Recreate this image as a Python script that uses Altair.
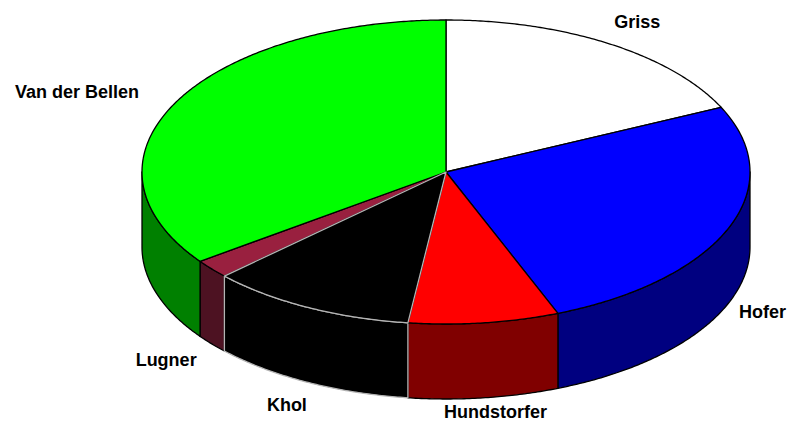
import math
import altair as alt
import pandas as pd

# ---- data ----
names = ["Griss", "Hofer", "Hundstorfer", "Khol", "Lugner", "Van der Bellen"]
values = [18, 26, 8, 11, 2, 35]
top_colors = ["#FFFFFF", "#0000FF", "#FF0000", "#000000", "#99203F", "#00FF00"]
side_colors = ["#BFBFBF", "#000080", "#800000", "#000000", "#4D1222", "#008000"]
edge_colors = ["#000000", "#000000", "#000000", "#B4B4B4", "#000000", "#000000"]

# ---- geometry of the tilted pie (styling, not data) ----
W, H = 781, 415
RX, RY, DEPTH = 304, 152, 75
CX, CY = 438, 164
FS = 18


def pt(deg, drop=0.0):
    r = math.radians(deg)
    return [RX * math.sin(r), RY * math.cos(r) - drop]


def arc_pts(a0, a1, drop=0.0):
    n = max(2, int(abs(a1 - a0) * 2)) + 1
    return [pt(a0 + (a1 - a0) * k / (n - 1), drop) for k in range(n)]


total = float(sum(values))
sides, tops = [], []
start = 0.0
mids = []
for i, name in enumerate(names):
    span = values[i] / total * 360.0
    end = start + span
    mids.append(start + span / 2)
    ring = [[0.0, 0.0]] + arc_pts(start, end) + [[0.0, 0.0]]
    tops.append({
        "type": "Feature",
        "properties": {"name": name, "fill": top_colors[i], "stroke": edge_colors[i], "k": 1 if name == "Khol" else 0},
        "geometry": {"type": "Polygon", "coordinates": [ring]},
    })
    s0, s1 = max(start, 90.0), min(end, 270.0)
    if s1 > s0:
        upper = arc_pts(s0, s1)
        lower = arc_pts(s1, s0, DEPTH)
        ring2 = upper + lower + [upper[0]]
        sides.append({
            "type": "Feature",
            "properties": {"name": name, "fill": side_colors[i], "stroke": edge_colors[i], "k": 1 if name == "Khol" else 0},
            "geometry": {"type": "Polygon", "coordinates": [ring2]},
        })
    start = end

sides.sort(key=lambda f: f["properties"]["k"])
tops.sort(key=lambda f: f["properties"]["k"])
features = sides + tops

# label positions derived from slice mid-angles, kept inside the view
lab = []
for name, m in zip(names, mids):
    r = math.radians(m)
    w = 9.8 * len(name)
    lon = math.sin(r) * (325 + 1.3 * w / 2)
    half = 0.52 * FS * len(name) / 2
    lon = min(lon, W - 3 - CX - half)
    lon = max(lon, 3 - CX + half)
    c = math.cos(r)
    lat = 1.17 * RY * c - (DEPTH - 1 if c < 0 else 0) - 0.36 * FS
    lat = max(lat, CY - (H - 5))
    lab.append({"name": name, "lon": lon, "lat": lat})
labels = pd.DataFrame(lab)

proj = dict(type="identity", reflectY=True, scale=1, translate=[CX, CY])

pie = alt.Chart(alt.Data(values=features)).mark_geoshape(strokeWidth=1.3, strokeJoin="round").encode(
    fill=alt.Fill("properties.fill:N", scale=None),
    stroke=alt.Stroke("properties.stroke:N", scale=None),
).project(**proj)

text = alt.Chart(labels).mark_text(
    font="Liberation Sans", fontWeight="bold", fontSize=FS, align="center", baseline="alphabetic", color="#000000"
).encode(
    longitude="lon:Q",
    latitude="lat:Q",
    text="name:N",
).project(**proj)

chart = alt.layer(pie, text).properties(
    width=W, height=H, padding=0, autosize=alt.AutoSizeParams(type="none")
).configure_view(stroke=None).configure(background="#FFFFFF")

chart.save("out.html", embed_options={"renderer": "svg", "actions": False})
